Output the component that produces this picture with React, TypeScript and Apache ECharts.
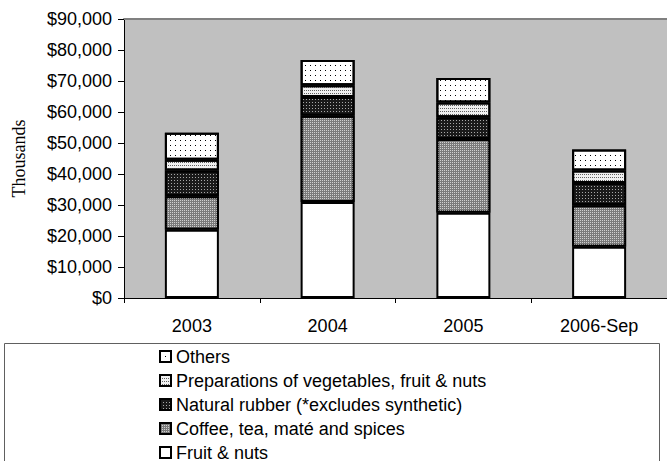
import React, { useEffect, useRef } from "react";
import * as echarts from "echarts";

const categories = ["2003", "2004", "2005", "2006-Sep"];
const fruitNuts = [22000, 31000, 27500, 16500];
const coffeeTea = [10800, 27800, 23800, 13400];
const naturalRubber = [8300, 6000, 7000, 7200];
const preparations = [3500, 3800, 4800, 4000];
const others = [8700, 8200, 7900, 6800];

const names = {
  fruit: "Fruit & nuts",
  coffee: "Coffee, tea, maté and spices",
  rubber: "Natural rubber (*excludes synthetic)",
  prep: "Preparations of vegetables, fruit & nuts",
  others: "Others",
};

const SANS = "'Liberation Sans', Arial, sans-serif";
const SERIF = "'Liberation Serif', 'Times New Roman', serif";

export default function App() {
  const ref = useRef<HTMLDivElement>(null);
  useEffect(() => {
    if (!ref.current) return;
    const chart = echarts.init(ref.current, null, { renderer: "svg" });
    const border = { borderColor: "#000", borderWidth: 2 };
    const mk = (name: string, data: number[], color: string, decal: any) => ({
      name,
      type: "bar",
      stack: "total",
      data,
      barWidth: 54,
      itemStyle: { color, ...border, decal },
      emphasis: { disabled: true },
    });
    chart.setOption({
      animation: false,
      backgroundColor: "#fff",
      grid: {
        left: 124,
        top: 19,
        right: 0,
        height: 279,
        show: true,
        backgroundColor: "#c0c0c0",
        borderWidth: 0,
      },
      xAxis: [
        {
          type: "category",
          data: categories,
          axisLine: { lineStyle: { color: "#000", width: 1 } },
          axisTick: { show: true, length: 5, interval: 0, lineStyle: { color: "#000" } },
          axisLabel: { color: "#000", fontFamily: SANS, fontSize: 18, margin: 19 },
        },
        {
          type: "category",
          data: categories,
          position: "top",
          axisLine: { lineStyle: { color: "#808080", width: 2 } },
          axisTick: { show: false },
          axisLabel: { show: false },
        },
      ],
      yAxis: {
        type: "value",
        min: 0,
        max: 90000,
        interval: 10000,
        name: "Thousands",
        nameLocation: "middle",
        nameRotate: 90,
        nameGap: 96,
        nameTextStyle: { color: "#000", fontFamily: SERIF, fontSize: 18 },
        axisLine: { show: true, lineStyle: { color: "#000", width: 1 } },
        axisTick: { show: true, length: 6, lineStyle: { color: "#000" } },
        splitLine: { show: false },
        axisLabel: {
          color: "#000",
          fontFamily: SANS,
          fontSize: 18,
          margin: 12,
          formatter: (v: number) => "$" + v.toLocaleString("en-US"),
        },
      },
      legend: {
        orient: "vertical",
        left: 159,
        top: 346.5,
        height: 140,
        padding: 0,
        itemWidth: 11,
        itemHeight: 11,
        itemGap: 4,
        icon: "rect",
        selectedMode: false,
        data: [names.others, names.prep, names.rubber, names.coffee, names.fruit],
        textStyle: { color: "#000", fontFamily: SANS, fontSize: 18, lineHeight: 20 },
      },
      graphic: [
        {
          type: "rect",
          shape: { x: 4.5, y: 343.5, width: 655, height: 130 },
          style: { fill: "none", stroke: "#606060", lineWidth: 1 },
          silent: true,
        },
      ],
      series: [
        mk(names.fruit, fruitNuts, "#ffffff", undefined),
        mk(names.coffee, coffeeTea, "#7a7a7a", {
          symbol: "rect",
          symbolSize: 1,
          color: "#d0d0d0",
          dashArrayX: [1, 1],
          dashArrayY: [1, 1],
        }),
        mk(names.rubber, naturalRubber, "#1a1a1a", {
          symbol: "rect",
          symbolSize: 1,
          color: "#a8a8a8",
          dashArrayX: [1, 2],
          dashArrayY: [1, 2],
        }),
        mk(names.prep, preparations, "#f0f0f0", {
          symbol: "rect",
          symbolSize: 1,
          color: "#606060",
          dashArrayX: [1, 1],
          dashArrayY: [1, 2],
        }),
        mk(names.others, others, "#ffffff", {
          symbol: "rect",
          symbolSize: 1,
          color: "#000000",
          dashArrayX: [1, 4],
          dashArrayY: [1, 4],
        }),
      ],
    });
    return () => chart.dispose();
  }, []);
  return <div ref={ref} style={{ width: 667, height: 461, position: "absolute", left: 0, top: 0 }} />;
}
